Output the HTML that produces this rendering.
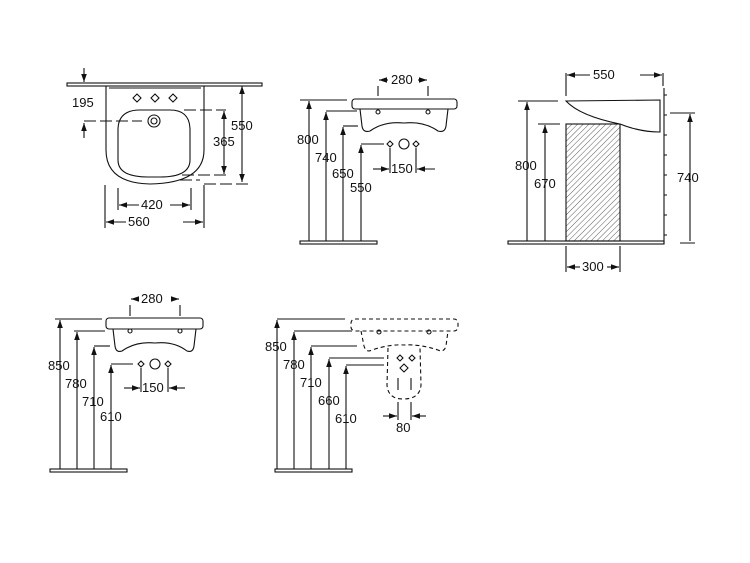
<!DOCTYPE html>
<html><head><meta charset="utf-8"><style>
html,body{margin:0;padding:0;background:#fff;}
svg{display:block;}
text{font-family:"Liberation Sans",sans-serif;font-size:13px;fill:#111;}
</style></head><body>
<svg width="750" height="563" viewBox="0 0 750 563" xmlns="http://www.w3.org/2000/svg">
<defs>
<marker id="a" viewBox="0 0 10 10" refX="10" refY="5" markerWidth="8" markerHeight="8" orient="auto-start-reverse" markerUnits="userSpaceOnUse"><path d="M0,1.5 L10,5 L0,8.5z" fill="#111"/></marker>
<pattern id="h" patternUnits="userSpaceOnUse" width="4" height="4" patternTransform="rotate(45)"><line x1="0" y1="0" x2="0" y2="4" stroke="#333" stroke-width="0.8"/></pattern>
</defs>
<g stroke="#111" stroke-width="1.1" fill="none">
<!-- Drawing 1 -->
<rect x="67" y="83" width="195" height="3" fill="#fff"/>
<path d="M106,86 L106,150 Q106,183 150,184 Q204,183 204,150 L204,86"/>
<path d="M109,88 L201,88"/>
<path d="M118,130 Q118,110 140,110 L170,110 Q190,110 190,130 L190,160 Q190,177 160,177 L148,177 Q118,177 118,160 Z"/>
<circle cx="154" cy="121" r="6"/><circle cx="154" cy="121" r="3"/>
<path d="M137,94 l4,4 l-4,4 l-4,-4z M155,94 l4,4 l-4,4 l-4,-4z M173,94 l4,4 l-4,4 l-4,-4z"/>
<path d="M84,68 L84,82" marker-end="url(#a)"/>
<path d="M84,138 L84,123" marker-end="url(#a)"/>
<path d="M84,121 L142,121" stroke-dasharray="12,4"/>
<path d="M184,110 L226,110 M182,175 L226,175 M180,180 L200,180 M204,184 L248,184" stroke-dasharray="12,4"/>
<path d="M242,86 L242,182" marker-start="url(#a)" marker-end="url(#a)"/>
<path d="M224,111 L224,174" marker-start="url(#a)" marker-end="url(#a)"/>
<path d="M118,188 L118,210 M191,188 L191,210 M105,185 L105,228 M204,185 L204,228"/>
<path d="M139,205 L119,205" marker-end="url(#a)"/>
<path d="M170,205 L190,205" marker-end="url(#a)"/>
<path d="M126,222 L106,222" marker-end="url(#a)"/>
<path d="M183,222 L203,222" marker-end="url(#a)"/>
<!-- Drawing 2 -->
<rect x="300" y="241" width="77" height="3" fill="#fff"/>
<path d="M309,241 L309,101" marker-end="url(#a)"/><path d="M300,100 L347,100"/>
<path d="M326,241 L326,112" marker-end="url(#a)"/><path d="M326,111 L357,111"/>
<path d="M343,241 L343,127" marker-end="url(#a)"/><path d="M343,126 L358,126"/>
<path d="M361,241 L361,145" marker-end="url(#a)"/><path d="M361,144 L384,144"/>
<rect x="352" y="99" width="105" height="10" rx="3" fill="#fff"/>
<path d="M360,109 L362,126 Q363,133 370,131 Q384,121 404,123 Q424,121 438,131 Q445,133 446,126 L448,109"/>
<circle cx="378" cy="112" r="2"/><circle cx="428" cy="112" r="2"/>
<path d="M378,86 L378,96 M428,86 L428,96"/>
<path d="M388,80 L379,80" marker-end="url(#a)"/><path d="M418,80 L427,80" marker-end="url(#a)"/>
<path d="M387,144 l3,-3 l3,3 l-3,3z M413,144 l3,-3 l3,3 l-3,3z"/><circle cx="404" cy="144" r="5"/>
<path d="M390,148 L390,173 M416,148 L416,173"/>
<path d="M373,169 L389,169" marker-end="url(#a)"/><path d="M435,169 L417,169" marker-end="url(#a)"/>
<!-- Drawing 3 -->
<rect x="508" y="241" width="156" height="3" fill="#fff"/>
<rect x="566" y="124" width="54" height="117" fill="url(#h)"/>
<path d="M664,88 L664,244"/>
<path d="M664,95 h3 M664,115 h3 M664,135 h3 M664,155 h3 M664,175 h3 M664,195 h3 M664,215 h3 M664,235 h3"/>
<path d="M566,101 L660,100 L660,132 Q640,132 620,124 Q580,116 566,101Z" fill="#fff"/>
<path d="M566,73 L566,96 M663,73 L663,86"/>
<path d="M590,75 L567,75" marker-end="url(#a)"/><path d="M640,75 L662,75" marker-end="url(#a)"/>
<path d="M527,241 L527,102" marker-end="url(#a)"/><path d="M518,101 L558,101"/>
<path d="M545,241 L545,125" marker-end="url(#a)"/><path d="M538,124 L560,124"/>
<path d="M690,241 L690,114" marker-end="url(#a)"/><path d="M670,113 L695,113 M680,243 L695,243"/>
<path d="M566,246 L566,272 M620,246 L620,272"/>
<path d="M580,267 L567,267" marker-end="url(#a)"/><path d="M607,267 L619,267" marker-end="url(#a)"/>
<!-- Drawing 4 -->
<rect x="50" y="469" width="77" height="3" fill="#fff"/>
<path d="M60,469 L60,320" marker-end="url(#a)"/><path d="M55,319 L102,319"/>
<path d="M77,469 L77,332" marker-end="url(#a)"/><path d="M74,331 L105,331"/>
<path d="M94,469 L94,347" marker-end="url(#a)"/><path d="M94,346 L110,346"/>
<path d="M111,469 L111,365" marker-end="url(#a)"/><path d="M111,364 L133,364"/>
<rect x="106" y="318" width="97" height="11" rx="3" fill="#fff"/>
<path d="M113,329 L115,346 Q116,353 122,351 Q136,341 155,343 Q174,341 187,351 Q193,353 194,346 L196,329"/>
<circle cx="130" cy="331" r="2"/><circle cx="180" cy="331" r="2"/>
<path d="M130,305 L130,316 M180,305 L180,316"/>
<path d="M139,299 L131,299" marker-end="url(#a)"/><path d="M171,299 L179,299" marker-end="url(#a)"/>
<path d="M138,364 l3,-3 l3,3 l-3,3z M165,364 l3,-3 l3,3 l-3,3z"/><circle cx="155" cy="364" r="5"/>
<path d="M141,368 L141,392 M168,368 L168,392"/>
<path d="M124,388 L140,388" marker-end="url(#a)"/><path d="M185,388 L169,388" marker-end="url(#a)"/>
<!-- Drawing 5 -->
<rect x="275" y="469" width="77" height="3" fill="#fff"/>
<path d="M277,469 L277,320" marker-end="url(#a)"/><path d="M277,319 L345,319"/>
<path d="M294,469 L294,332" marker-end="url(#a)"/><path d="M294,331 L352,331"/>
<path d="M311,469 L311,347" marker-end="url(#a)"/><path d="M311,346 L357,346"/>
<path d="M329,469 L329,359" marker-end="url(#a)"/><path d="M329,358 L384,358"/>
<path d="M346,469 L346,366" marker-end="url(#a)"/><path d="M346,365 L384,365"/>
<g stroke-dasharray="4,3">
<rect x="351" y="319" width="107" height="12" rx="4"/>
<path d="M361,331 L364,346 Q366,353 372,350 Q390,344 404,345 Q420,344 438,350 Q444,353 446,346 L448,331"/>
<path d="M388,348 L387,385 Q388,399 403,399 Q420,399 421,385 L420,348"/>
</g>
<circle cx="379" cy="332" r="2"/><circle cx="429" cy="332" r="2"/>
<path d="M397,358 l3,-3 l3,3 l-3,3z M409,358 l3,-3 l3,3 l-3,3z M400,368 l4,-4 l4,4 l-4,4z"/>
<path d="M398,378 L398,390 M411,378 L411,390 M398,402 L398,420 M411,402 L411,420"/>
<path d="M383,416 L397,416" marker-end="url(#a)"/><path d="M426,416 L412,416" marker-end="url(#a)"/>
</g>
<g>
<text x="72" y="107">195</text>
<text x="231" y="130">550</text>
<text x="213" y="146">365</text>
<text x="141" y="209">420</text>
<text x="128" y="226">560</text>
<text x="391" y="84">280</text>
<text x="297" y="144">800</text>
<text x="315" y="162">740</text>
<text x="332" y="178">650</text>
<text x="350" y="192">550</text>
<text x="391" y="173">150</text>
<text x="593" y="79">550</text>
<text x="515" y="170">800</text>
<text x="534" y="188">670</text>
<text x="677" y="182">740</text>
<text x="582" y="271">300</text>
<text x="141" y="303">280</text>
<text x="48" y="370">850</text>
<text x="65" y="388">780</text>
<text x="82" y="406">710</text>
<text x="100" y="421">610</text>
<text x="142" y="392">150</text>
<text x="265" y="351">850</text>
<text x="283" y="369">780</text>
<text x="300" y="387">710</text>
<text x="318" y="405">660</text>
<text x="335" y="423">610</text>
<text x="396" y="432">80</text>
</g>
</svg>
</body></html>
